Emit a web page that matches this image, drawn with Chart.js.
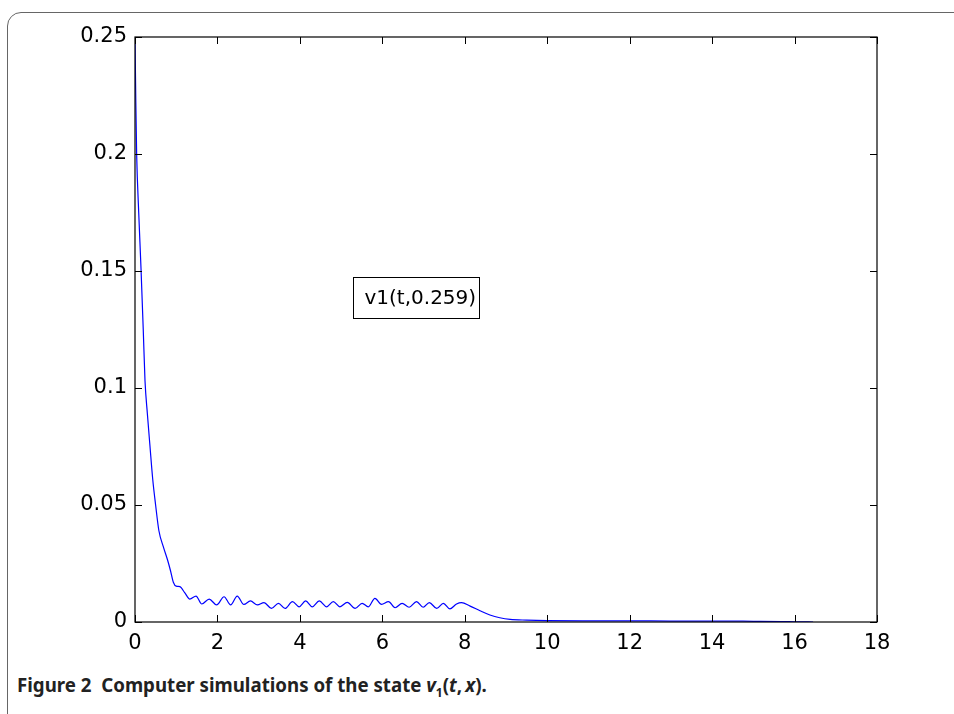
<!DOCTYPE html>
<html>
<head>
<meta charset="utf-8">
<script src="https://cdn.jsdelivr.net/npm/chart.js@4.4.1/dist/chart.umd.min.js"></script>
<style>
    body { margin: 0; width: 954px; height: 714px; overflow: hidden; background: #fff; }
    #frame {
        position: absolute; left: 7px; top: 12px; width: 1000px; height: 800px;
        border: 1.5px solid #666; border-radius: 14px;
    }
    #wrap { position: absolute; left: 0; top: 0; width: 954px; height: 660px; }
    #caption {
        position: absolute; left: 17px; top: 673px;
        font-family: "Noto Sans", sans-serif; font-weight: bold; font-size: 18.7px; color: #222;
        white-space: nowrap; line-height: 24px;
    }
    #caption sub { font-size: 12px; }
</style>
</head>
<body>
<div id="frame"></div>
<div id="wrap"><canvas id="stateChart"></canvas></div>
<div id="caption">Figure 2&nbsp; Computer simulations of the state <i>v</i><sub>1</sub>(<i>t</i>,&thinsp;<i>x</i>).</div>

<script>
// time values (t) and state values v1(t, 0.259)
const tValues = [
    0, 0.02, 0.04, 0.09, 0.146, 0.2, 0.243, 0.30, 0.364, 0.43,
    0.50, 0.58, 0.69, 0.79, 0.86, 0.93, 1.0, 1.09, 1.21, 1.33,
    1.48, 1.62, 1.80, 1.98, 2.16, 2.32, 2.48, 2.64, 2.80, 2.97,
    3.13, 3.31, 3.48, 3.64, 3.82, 3.98, 4.14, 4.30, 4.47, 4.65,
    4.81, 4.97, 5.15, 5.34, 5.51, 5.66, 5.82, 5.98, 6.15, 6.31,
    6.48, 6.65, 6.83, 6.99, 7.14, 7.32, 7.48, 7.64, 7.80, 7.92,
    8.13, 8.37, 8.61, 8.85, 9.1, 9.5, 10, 11, 12, 13,
    14, 15, 15.7, 16.0, 16.45
];
const vValues = [
    0.25, 0.222, 0.20, 0.175, 0.151, 0.125, 0.103, 0.089, 0.075, 0.061,
    0.050, 0.039, 0.032, 0.0265, 0.022, 0.017, 0.0153, 0.0151, 0.0124, 0.0098,
    0.0111, 0.0077, 0.0098, 0.0073, 0.0108, 0.0073, 0.0111, 0.0075, 0.009, 0.0073,
    0.0083, 0.0058, 0.008, 0.0058, 0.0087, 0.0065, 0.009, 0.0065, 0.009, 0.0065,
    0.0087, 0.0065, 0.0084, 0.0058, 0.008, 0.0065, 0.0101, 0.0075, 0.0087, 0.0061,
    0.008, 0.0063, 0.0087, 0.0063, 0.0083, 0.0058, 0.008, 0.0056, 0.0077, 0.0083,
    0.0068, 0.0048, 0.003, 0.0018, 0.0011, 0.0008, 0.0006, 0.0005, 0.0005, 0.0004,
    0.0004, 0.0003, 0.0002, 0.0001, 0
];

const xTicks = [0, 2, 4, 6, 8, 10, 12, 14, 16, 18];
const yTicks = [0, 0.05, 0.1, 0.15, 0.2, 0.25];
const yTickLabels = ['0', '0.05', '0.1', '0.15', '0.2', '0.25'];
const legendText = 'v1(t,0.259)';

const tickFont = { family: 'DejaVu Sans', size: 21 };

// MATLAB-like box with inward ticks and a boxed legend
const boxPlugin = {
    id: 'boxPlugin',
    afterDraw(chart) {
        const ctx = chart.ctx;
        const a = chart.chartArea;
        const xs = chart.scales.x, ys = chart.scales.y;
        const len = 7;
        ctx.save();
        ctx.strokeStyle = '#000';
        ctx.lineWidth = 1.2;
        ctx.strokeRect(a.left, a.top, a.right - a.left, a.bottom - a.top);
        ctx.beginPath();
        xTicks.forEach(v => {
            const px = Math.round(xs.getPixelForValue(v)) + 0.5;
            ctx.moveTo(px, a.bottom); ctx.lineTo(px, a.bottom - len);
            ctx.moveTo(px, a.top); ctx.lineTo(px, a.top + len);
        });
        yTicks.forEach(v => {
            const py = Math.round(ys.getPixelForValue(v)) + 0.5;
            ctx.moveTo(a.left, py); ctx.lineTo(a.left + len, py);
            ctx.moveTo(a.right, py); ctx.lineTo(a.right - len, py);
        });
        ctx.lineWidth = 1;
        ctx.stroke();

        // legend box
        ctx.font = '20px "DejaVu Sans"';
        const w = 126;
        const h = 41;
        const bx = Math.round(a.left + 0.2934 * (a.right - a.left)) + 0.5;
        const by = Math.round(a.top + 0.41 * (a.bottom - a.top)) + 0.5;
        ctx.fillStyle = '#fff';
        ctx.fillRect(bx, by, w, h);
        ctx.strokeRect(bx, by, w, h);
        ctx.fillStyle = '#000';
        ctx.textBaseline = 'middle';
        ctx.fillText(legendText, bx + 11, by + h / 2 + 1);
        ctx.restore();
    }
};

const ctx = document.getElementById('stateChart').getContext('2d');

new Chart(ctx, {
    type: 'line',
    data: {
        datasets: [{
            label: legendText,
            data: tValues.map((t, i) => ({ x: t, y: vValues[i] })),
            borderColor: '#0000ff',
            borderWidth: 1.2,
            pointRadius: 0,
            fill: false,
            cubicInterpolationMode: 'monotone'
        }]
    },
    options: {
        responsive: true,
        maintainAspectRatio: false,
        animation: false,
        layout: { padding: { top: 37, right: 77, left: 0, bottom: 0 } },
        plugins: {
            legend: { display: false },
            tooltip: { enabled: false }
        },
        scales: {
            x: {
                type: 'linear',
                min: 0,
                max: 18,
                afterFit: s => { s.height = 38; },
                afterBuildTicks: s => { s.ticks = xTicks.map(v => ({ value: v })); },
                grid: { display: false, drawTicks: false },
                border: { display: false },
                ticks: { color: '#000', font: tickFont, padding: 9, maxRotation: 0 }
            },
            y: {
                type: 'linear',
                min: 0,
                max: 0.25,
                afterFit: s => { s.width = 135; },
                afterBuildTicks: s => { s.ticks = yTicks.map(v => ({ value: v })); },
                grid: { display: false, drawTicks: false },
                border: { display: false },
                ticks: {
                    color: '#000',
                    font: tickFont,
                    padding: 8,
                    callback: (v) => yTickLabels[yTicks.indexOf(v)] ?? ''
                }
            }
        }
    },
    plugins: [boxPlugin]
});
</script>
</body>
</html>
